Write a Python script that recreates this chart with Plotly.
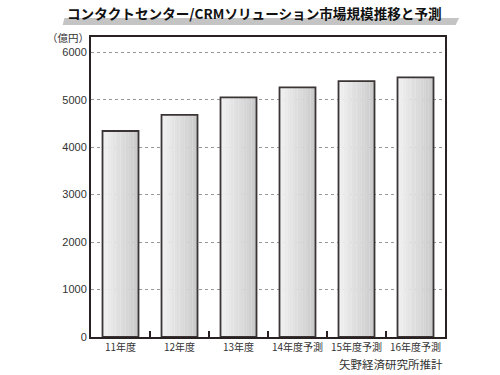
import plotly.graph_objects as go

categories = ["11年度", "12年度", "13年度", "14年度予測", "15年度予測", "16年度予測"]
values = [4340, 4680, 5050, 5260, 5390, 5470]
y_ticks = [0, 1000, 2000, 3000, 4000, 5000, 6000]

title_text = "コンタクトセンター/CRMソリューション市場規模推移と予測"
unit_text = "（億円）"
source_text = "矢野経済研究所推計"

fig = go.Figure()

BAR_W = 0.61
N = 14
c0, c1 = (240, 240, 240), (202, 202, 202)
for i in range(N):
    t = i / (N - 1)
    col = tuple(round(a + (b - a) * t) for a, b in zip(c0, c1))
    fig.add_trace(go.Bar(
        x=categories, y=values,
        width=BAR_W / N + 0.002, offset=-BAR_W / 2 + i * BAR_W / N,
        marker=dict(color="rgb(%d,%d,%d)" % col, line=dict(width=0)),
        hoverinfo="skip", showlegend=False,
    ))
fig.add_trace(go.Bar(
    x=categories, y=values, width=BAR_W, offset=-BAR_W / 2,
    marker=dict(color="rgba(0,0,0,0)", line=dict(color="#3a3434", width=1.8)),
    showlegend=False,
))

font = "Noto Sans CJK JP"
fig.update_layout(
    width=500, height=375,
    margin=dict(l=91, r=55, t=37, b=38),
    barmode="overlay",
    plot_bgcolor="white", paper_bgcolor="white",
    font=dict(family=font, color="#222"),
    xaxis=dict(
        type="category", range=[-0.5, 5.5],
        showline=True, linecolor="#2a2222", linewidth=2, mirror=True,
        ticks="inside", tickson="boundaries", ticklen=6, tickwidth=2, tickcolor="#2a2222",
        showgrid=False, tickangle=0, tickfont=dict(size=10, color="#333"),
    ),
    yaxis=dict(
        range=[0, 6320], tickvals=y_ticks,
        showline=True, linecolor="#2a2222", linewidth=2, mirror=True,
        showgrid=True, gridcolor="#999", gridwidth=1, griddash="dot",
        ticks="", tickfont=dict(size=11, color="#333", family="Liberation Sans"),
        zeroline=False,
    ),
    shapes=[dict(
        type="path", xref="paper", yref="paper",
        path="M -0.08 1.04 L 1.03 1.04 L 1.04 1.063 L -0.075 1.063 Z",
        fillcolor="#c4c4c4", line=dict(width=0), layer="below",
    )],
    annotations=[
        dict(text="<b>" + title_text + "</b>", xref="paper", yref="paper",
             x=0.462, y=1.08, xanchor="center", yanchor="middle", showarrow=False,
             font=dict(size=13.6, color="#111", family=font)),
        dict(text=unit_text, xref="paper", yref="paper", x=0.0, y=1.0,
             xanchor="right", yanchor="middle", showarrow=False,
             font=dict(size=10.5, color="#333", family=font)),
        dict(text=source_text, xref="paper", yref="paper", x=1.0, y=-0.09,
             xanchor="right", yanchor="middle", showarrow=False,
             font=dict(size=11.5, color="#333", family=font)),
    ],
)

fig.write_html("out.html", config={"displayModeBar": False},
               post_script="document.body.style.margin='0';")
